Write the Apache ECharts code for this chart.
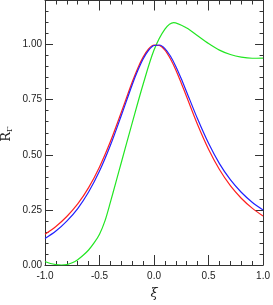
<!DOCTYPE html>
<html>
<head>
<meta charset="utf-8">
<script src="https://cdn.jsdelivr.net/npm/echarts@6/dist/echarts.min.js"></script>
<style>
html,body{margin:0;padding:0;background:#fff;}
#chart{width:273px;height:305px;}
</style>
</head>
<body>
<div id="chart"></div>
<script>
// ---- data ----
const xTickLabels = ['-1.0', '-0.5', '0.0', '0.5', '1.0'];
const yTickLabels = ['0.00', '0.25', '0.50', '0.75', '1.00'];

const redX = [-1.0,-0.9,-0.8,-0.7,-0.6,-0.5,-0.4,-0.3,-0.2,-0.15,-0.1,-0.05,0.0,0.05,0.1,0.15,0.2,0.25,0.3,0.4,0.5,0.6,0.7,0.8,0.9,1.0];
const redY = [0.140,0.175,0.220,0.277,0.351,0.445,0.560,0.693,0.830,0.892,0.943,0.980,0.998,0.996,0.975,0.936,0.885,0.825,0.762,0.636,0.525,0.433,0.360,0.303,0.258,0.222];

const blueX = [-1.0,-0.9,-0.8,-0.7,-0.6,-0.5,-0.4,-0.3,-0.2,-0.15,-0.1,-0.05,0.0,0.05,0.1,0.15,0.2,0.25,0.3,0.4,0.5,0.6,0.7,0.8,0.9,1.0];
const blueY = [0.120,0.154,0.199,0.256,0.331,0.426,0.543,0.678,0.818,0.881,0.935,0.974,0.996,0.998,0.982,0.948,0.901,0.845,0.784,0.662,0.552,0.460,0.387,0.330,0.285,0.250];

const greenX = [-1.0,-0.95,-0.9,-0.85,-0.8,-0.75,-0.7,-0.65,-0.6,-0.55,-0.5,-0.45,-0.4,-0.35,-0.3,-0.2,-0.1,0.0,0.1,0.18,0.3,0.4,0.5,0.6,0.7,0.8,0.9,1.0];
const greenY = [0.016,0.007,0.002,0.000,0.002,0.010,0.024,0.044,0.068,0.100,0.140,0.200,0.285,0.375,0.465,0.645,0.820,0.975,1.070,1.100,1.075,1.040,1.005,0.975,0.955,0.943,0.938,0.939];

const yName = 'R';
const ySub = 'Γ';
const xName = 'ξ';

// ---- chart ----
const pairs = (xs, ys) => xs.map((x, i) => [x, ys[i]]);
const chart = echarts.init(document.getElementById('chart'), null, {renderer: 'canvas'});
const lineCol = '#333';
const labelFont = {fontFamily: 'Liberation Sans Narrow, Liberation Sans, sans-serif', fontSize: 10, color: '#222'};
const xLabel = v => {
  const i = Math.round((v + 1) / 0.5);
  return (Math.abs(v + 1 - i * 0.5) < 1e-6 && i >= 0 && i < xTickLabels.length) ? xTickLabels[i] : '';
};
const yLabel = v => {
  const i = Math.round(v / 0.25);
  return (Math.abs(v - i * 0.25) < 1e-6 && i >= 0 && i < yTickLabels.length) ? yTickLabels[i] : '';
};
function xAx(pos, showLabel) {
  return {
    type: 'value', position: pos, min: -1, max: 1, interval: 0.5,
    axisLine: {show: true, onZero: false, lineStyle: {color: lineCol, width: 1}},
    axisTick: {show: true, inside: true, length: 10, lineStyle: {color: lineCol, width: 1}},
    minorTick: {show: true, splitNumber: 5, length: 4, lineStyle: {color: lineCol, width: 1}},
    splitLine: {show: false}, minorSplitLine: {show: false},
    axisLabel: Object.assign({show: showLabel, margin: 6, formatter: xLabel}, labelFont),
    name: showLabel ? xName : '',
    nameLocation: 'middle', nameGap: 22,
    nameTextStyle: {fontFamily: 'DejaVu Serif', fontStyle: 'italic', fontSize: 13, color: '#222'}
  };
}
function yAx(pos, interval, len, showLabel, showLine) {
  return {
    type: 'value', position: pos, min: 0, max: 1.2, interval: interval,
    axisLine: {show: showLine, onZero: false, lineStyle: {color: lineCol, width: 1}},
    axisTick: {show: true, inside: true, length: len, lineStyle: {color: lineCol, width: 1}},
    splitLine: {show: false},
    axisLabel: Object.assign({show: showLabel, margin: 3, formatter: yLabel}, labelFont)
  };
}
chart.setOption({
  animation: false,
  backgroundColor: '#fff',
  grid: {left: 45, right: 5, top: 0.5, bottom: 38, containLabel: false},
  xAxis: [xAx('bottom', true), xAx('top', false)],
  yAxis: [
    yAx('left', 0.25, 8, true, true),
    yAx('left', 0.05, 3.5, false, false),
    yAx('right', 0.25, 8, false, true),
    yAx('right', 0.05, 3.5, false, false)
  ],
  graphic: [{
    type: 'text', x: 7, y: 134, rotation: Math.PI / 2,
    style: {
      text: '{r|' + yName + '}{s|' + ySub + '}',
      align: 'center', verticalAlign: 'middle',
      rich: {
        r: {fontFamily: 'DejaVu Serif', fontSize: 13, fill: '#222', lineHeight: 15},
        s: {fontFamily: 'DejaVu Serif', fontSize: 8, fill: '#222', lineHeight: 15, padding: [6, 0, 0, 0]}
      }
    }
  }],
  series: [
    {type: 'line', name: 'green', data: pairs(greenX, greenY), smooth: 0.3, showSymbol: false, clip: true,
     lineStyle: {color: '#22e622', width: 1.2}},
    {type: 'line', name: 'red', data: pairs(redX, redY), smooth: 0.3, showSymbol: false, clip: true,
     lineStyle: {color: '#ff2020', width: 1.2}},
    {type: 'line', name: 'blue', data: pairs(blueX, blueY), smooth: 0.3, showSymbol: false, clip: true,
     lineStyle: {color: '#2020ff', width: 1.2}}
  ]
});
</script>
</body>
</html>
